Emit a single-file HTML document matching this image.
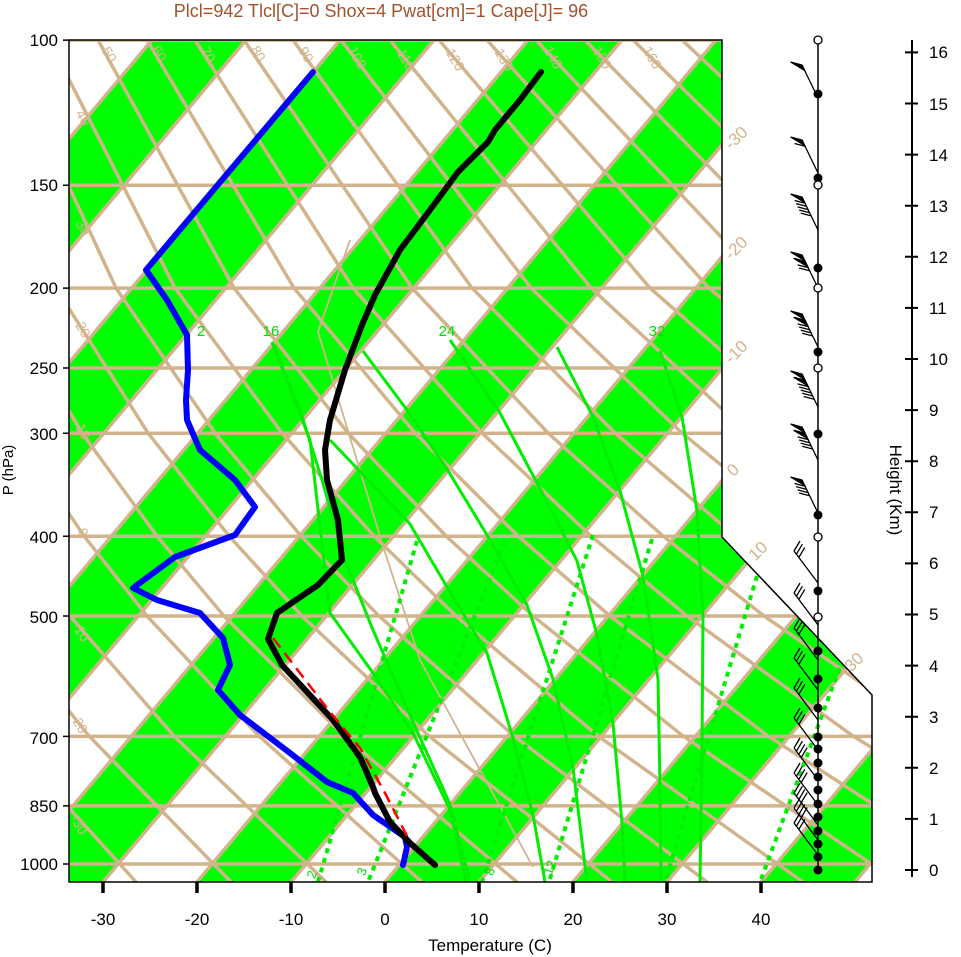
<!DOCTYPE html>
<html><head><meta charset="utf-8">
<style>
html,body{margin:0;padding:0;background:#fff;}
svg{display:block;font-family:"Liberation Sans",sans-serif;}
</style></head>
<body>
<svg width="961" height="957" viewBox="0 0 961 957" xmlns="http://www.w3.org/2000/svg">
<defs>
<clipPath id="cp"><polygon points="69,40 722,40 722,537 872,695 872,882 69,882"/></clipPath>
</defs>
<g clip-path="url(#cp)">
<rect x="0" y="0" width="961" height="957" fill="#fff"/>
<g fill="#00ff00">
<polygon points="152,40 246,40 -461,882 -555,882"/>
<polygon points="340,40 434,40 -273,882 -367,882"/>
<polygon points="528,40 622,40 -85,882 -179,882"/>
<polygon points="716,40 810,40 103,882 9,882"/>
<polygon points="904,40 998,40 291,882 197,882"/>
<polygon points="1092,40 1186,40 479,882 385,882"/>
<polygon points="1280,40 1374,40 667,882 573,882"/>
<polygon points="1468,40 1562,40 855,882 761,882"/>
</g>
<path fill="none" stroke="#d2b48c" stroke-width="3.5" d="M-649 882L58 40M-555 882L152 40M-461 882L246 40M-367 882L340 40M-273 882L434 40M-179 882L528 40M-85 882L622 40M9 882L716 40M103 882L810 40M197 882L904 40M291 882L998 40M385 882L1092 40M479 882L1186 40M573 882L1280 40M667 882L1374 40M761 882L1468 40M855 882L1562 40"/>
<path fill="none" stroke="#d2b48c" stroke-width="3.5" d="M60 40.1H880M60 185.2H880M60 288.1H880M60 368H880M60 433.2H880M60 536.2H880M60 616H880M60 736.4H880M60 805.9H880M60 864H880"/>
<g fill="none" stroke="#d2b48c" stroke-width="3.5">
<polyline points="-340,40 -300,288 -252,433 -205,536 -161,616 -81,736 40,882"/>
<polyline points="-292,40 -241,288 -185,433 -133,536 -84,616 4,736 136,882"/>
<polyline points="-243,40 -181,288 -118,433 -61,536 -7,616 89,736 231,882"/>
<polyline points="-194,40 -122,288 -52,433 12,536 70,616 174,736 326,882"/>
<polyline points="-146,40 -62,288 15,433 84,536 147,616 259,736 422,882"/>
<polyline points="-97,40 -3,288 82,433 157,536 224,616 344,736 517,882"/>
<polyline points="-48,40 56,288 148,433 229,536 302,616 429,736 612,882"/>
<polyline points="1,40 116,288 215,433 301,536 379,616 514,736 707,882"/>
<polyline points="49,40 175,288 282,433 374,536 456,616 598,736 803,882"/>
<polyline points="98,40 234,288 348,433 446,536 533,616 683,736 898,882"/>
<polyline points="147,40 294,288 415,433 518,536 610,616 768,736 993,882"/>
<polyline points="195,40 353,288 482,433 591,536 687,616 853,736 1089,882"/>
<polyline points="244,40 412,288 548,433 663,536 764,616 938,736 1184,882"/>
<polyline points="293,40 472,288 615,433 735,536 841,616 1023,736 1279,882"/>
<polyline points="341,40 531,288 682,433 808,536 918,616 1108,736"/>
<polyline points="390,40 591,288 748,433 880,536 996,616"/>
<polyline points="439,40 650,288 815,433 952,536"/>
<polyline points="487,40 709,288 882,433"/>
<polyline points="536,40 769,288 948,433"/>
<polyline points="585,40 828,288"/>
<polyline points="633,40 887,288"/>
<polyline points="682,40 947,288"/>
<polyline points="731,40 1006,288"/>
</g>
<g fill="none" stroke="#d2b48c" stroke-width="1.8">
<polyline points="318,332 383,546 420,660 533,867"/>
<polyline points="318,332 350,240"/>
</g>
<g fill="none" stroke="#00ee00" stroke-width="3">
<polyline points="660,351 682,417 697,511 703,616 702,750 700,882"/>
<polyline points="557,347 593,417 620,491 643,576 658,679 660,786 661,882"/>
<polyline points="450,340 500,413 547,502 577,561 597,635 613,723 622,823 625,882"/>
<polyline points="363,351 407,410 447,469 487,535 527,605 553,679 573,768 587,882"/>
<polyline points="330,440 410,524 447,587 487,653 513,738 533,815 545,882"/>
<polyline points="272,342 300,410 322,480 345,560 373,630 417,731 450,804 470,882"/>
<polyline points="272,342 310,440 330,613 373,673 413,733 450,810 466,882"/>
</g>
<g fill="none" stroke="#00ee00" stroke-width="4" stroke-dasharray="5 5">
<line x1="417" y1="541" x2="318" y2="882"/>
<line x1="505" y1="541" x2="368" y2="882"/>
<line x1="593" y1="535" x2="482" y2="882"/>
<line x1="652" y1="539" x2="549" y2="882"/>
<line x1="757" y1="576" x2="665" y2="882"/>
<line x1="850" y1="640" x2="760" y2="882"/>
</g>
<polyline fill="none" stroke="#0000ff" stroke-width="6" stroke-linejoin="round" stroke-linecap="round" points="313,72 146,270 160,290 167,300 187,335 188,370 186,400 187,420 200,450 235,480 255,507 235,535 175,557 133,588 157,600 200,613 223,638 230,665 218,690 240,715 290,753 327,782 353,793 373,815 405,837 407,847 403,865"/>
<polyline fill="none" stroke="#000" stroke-width="6" stroke-linejoin="round" stroke-linecap="round" points="541,72 520,100 495,130 488,142 458,172 430,210 400,250 375,295 362,325 345,370 330,420 325,450 327,480 338,520 342,560 318,585 296,600 277,613 268,639 282,665 333,720 360,757 373,787 375,793 390,822 410,843 435,865"/>
<polyline fill="none" stroke="#ff0000" stroke-width="2.5" stroke-dasharray="12 7" points="273,638 330,712 360,748 385,793 408,838"/>
</g>
<polygon points="69,40 722,40 722,537 872,695 872,882 69,882" fill="none" stroke="#000" stroke-width="1.5"/>

<!-- ticks -->
<path stroke="#000" stroke-width="3.5" d="M103 882V893M197 882V893M291 882V893M385 882V893M479 882V893M573 882V893M667 882V893M761 882V893"/>
<path stroke="#000" stroke-width="1.5" d="M63 40.1H69M63 185.2H69M63 288.1H69M63 368H69M63 433.2H69M63 536.2H69M63 616H69M63 736.4H69M63 805.9H69M63 864H69"/>
<path stroke="#000" stroke-width="2" d="M912 40V877M905 870H918M905 818.9H918M905 767.8H918M905 716.7H918M905 665.6H918M905 614.5H918M905 563.4H918M905 512.3H918M905 461.2H918M905 410.1H918M905 359H918M905 307.9H918M905 256.8H918M905 205.7H918M905 154.6H918M905 103.5H918M905 52.4H918"/>

<!-- wind -->
<line x1="818" y1="40" x2="818" y2="872" stroke="#000" stroke-width="1.5"/>
<g stroke="#000" stroke-width="1.3" fill="#000">
<g transform="translate(818,98)"><line x1="0" y1="0" x2="-16" y2="-33"/><polygon points="-16,-33 -13.4,-27.6 -27.4,-36"/></g>
<g transform="translate(818,173)"><line x1="0" y1="0" x2="-16" y2="-33"/><polygon points="-16,-33 -13.4,-27.6 -27.4,-36"/><path d="M-12.9 -26.7l-10.5 -2.75"/></g>
<g transform="translate(818,230)"><line x1="0" y1="0" x2="-16" y2="-33"/><polygon points="-16,-33 -13.4,-27.6 -27.4,-36"/><path d="M-12.9 -26.7l-10.5 -2.75M-11.4 -23.6l-10.5 -2.75M-9.9 -20.4l-10.5 -2.75M-8.4 -17.3l-10.5 -2.75M-6.8 -14.1l-10.5 -2.75"/></g>
<g transform="translate(818,288)"><line x1="0" y1="0" x2="-16" y2="-33"/><polygon points="-16,-33 -13.4,-27.6 -27.4,-36"/><polygon points="-12.9,-26.7 -10.3,-21.3 -24.3,-29.7"/><path d="M-9.9 -20.4l-10.5 -2.75M-8.4 -17.3l-10.5 -2.75"/></g>
<g transform="translate(818,347)"><line x1="0" y1="0" x2="-16" y2="-33"/><polygon points="-16,-33 -13.4,-27.6 -27.4,-36"/><polygon points="-12.9,-26.7 -10.3,-21.3 -24.3,-29.7"/><path d="M-9.9 -20.4l-10.5 -2.75M-8.4 -17.3l-10.5 -2.75M-6.8 -14.1l-10.5 -2.75M-5.3 -11l-10.5 -2.75"/></g>
<g transform="translate(818,407)"><line x1="0" y1="0" x2="-16" y2="-33"/><polygon points="-16,-33 -13.4,-27.6 -27.4,-36"/><polygon points="-12.9,-26.7 -10.3,-21.3 -24.3,-29.7"/><path d="M-9.9 -20.4l-10.5 -2.75M-8.4 -17.3l-10.5 -2.75M-6.8 -14.1l-10.5 -2.75M-5.3 -11l-10.5 -2.75M-3.8 -7.8l-10.5 -2.75"/></g>
<g transform="translate(818,460)"><line x1="0" y1="0" x2="-16" y2="-33"/><polygon points="-16,-33 -13.4,-27.6 -27.4,-36"/><polygon points="-12.9,-26.7 -10.3,-21.3 -24.3,-29.7"/><path d="M-9.9 -20.4l-10.5 -2.75M-8.4 -17.3l-10.5 -2.75M-6.8 -14.1l-10.5 -2.75M-5.3 -11l-10.5 -2.75"/></g>
<g transform="translate(818,513)"><line x1="0" y1="0" x2="-16" y2="-33"/><polygon points="-16,-33 -13.4,-27.6 -27.4,-36"/><path d="M-12.9 -26.7l-10.5 -2.75M-11.4 -23.6l-10.5 -2.75M-9.9 -20.4l-10.5 -2.75M-8.4 -17.3l-10.5 -2.75"/></g>
</g>
<g stroke="#000" stroke-width="1.3" fill="none">
<g transform="translate(818,583)"><path d="M0 0L-24 -32M-24 -32l6 -10M-21.6 -28.8l6 -10M-19.2 -25.6l6 -10"/></g>
<g transform="translate(818,625)"><path d="M0 0L-24 -32M-24 -32l6 -10M-21.6 -28.8l6 -10M-19.2 -25.6l6 -10"/></g>
<g transform="translate(818,660)"><path d="M0 0L-24 -32M-24 -32l6 -10M-21.6 -28.8l6 -10M-19.2 -25.6l6 -10"/></g>
<g transform="translate(818,690)"><path d="M0 0L-24 -32M-24 -32l6 -10M-21.6 -28.8l6 -10M-19.2 -25.6l6 -10"/></g>
<g transform="translate(818,720)"><path d="M0 0L-24 -32M-24 -32l6 -10M-21.6 -28.8l6 -10M-19.2 -25.6l6 -10"/></g>
<g transform="translate(818,750)"><path d="M0 0L-24 -32M-24 -32l6 -10M-21.6 -28.8l6 -10M-19.2 -25.6l6 -10"/></g>
<g transform="translate(818,780)"><path d="M0 0L-24 -32M-24 -32l6 -10M-21.6 -28.8l6 -10M-19.2 -25.6l6 -10M-16.8 -22.4l6 -10"/></g>
<g transform="translate(818,805)"><path d="M0 0L-24 -32M-24 -32l6 -10M-21.6 -28.8l6 -10M-19.2 -25.6l6 -10M-16.8 -22.4l6 -10"/></g>
<g transform="translate(818,825)"><path d="M0 0L-24 -32M-24 -32l6 -10M-21.6 -28.8l6 -10M-19.2 -25.6l6 -10M-16.8 -22.4l6 -10"/></g>
<g transform="translate(818,840)"><path d="M0 0L-24 -32M-24 -32l6 -10M-21.6 -28.8l6 -10M-19.2 -25.6l6 -10M-16.8 -22.4l6 -10"/></g>
<g transform="translate(818,855)"><path d="M0 0L-24 -32M-24 -32l6 -10M-21.6 -28.8l6 -10M-19.2 -25.6l6 -10"/></g>
</g>
<g fill="#000">
<circle cx="818" cy="94" r="4.5"/><circle cx="818" cy="178" r="4.5"/><circle cx="818" cy="268" r="4.5"/><circle cx="818" cy="352" r="4.5"/><circle cx="818" cy="434" r="4.5"/><circle cx="818" cy="515" r="4.5"/><circle cx="818" cy="591" r="4.5"/><circle cx="818" cy="651" r="4.5"/><circle cx="818" cy="679" r="4.5"/><circle cx="818" cy="708" r="4.5"/><circle cx="818" cy="737" r="4.5"/><circle cx="818" cy="749" r="4.5"/><circle cx="818" cy="763" r="4.5"/><circle cx="818" cy="777" r="4.5"/><circle cx="818" cy="790" r="4.5"/><circle cx="818" cy="804" r="4.5"/><circle cx="818" cy="817" r="4.5"/><circle cx="818" cy="831" r="4.5"/><circle cx="818" cy="844" r="4.5"/><circle cx="818" cy="857" r="4.5"/><circle cx="818" cy="870" r="4.5"/>
</g>
<g fill="#fff" stroke="#000" stroke-width="1.3">
<circle cx="818" cy="40" r="4"/><circle cx="818" cy="185" r="4"/><circle cx="818" cy="288" r="4"/><circle cx="818" cy="368" r="4"/><circle cx="818" cy="537" r="4"/><circle cx="818" cy="617" r="4"/>
</g>

<!-- title -->
<text x="381" y="17" font-size="18" fill="#a0522d" text-anchor="middle">Plcl=942 Tlcl[C]=0 Shox=4 Pwat[cm]=1 Cape[J]= 96</text>

<g font-size="17" fill="#000" text-anchor="end">
<text x="58" y="46">100</text>
<text x="58" y="191">150</text>
<text x="58" y="294">200</text>
<text x="58" y="374">250</text>
<text x="58" y="440">300</text>
<text x="58" y="543">400</text>
<text x="58" y="623">500</text>
<text x="58" y="744">700</text>
<text x="58" y="812">850</text>
<text x="58" y="870">1000</text>
</g>
<text x="0" y="0" font-size="15" transform="translate(13,470) rotate(-90)" text-anchor="middle">P (hPa)</text>

<g font-size="17" fill="#000" text-anchor="middle">
<text x="103" y="925">-30</text>
<text x="197" y="925">-20</text>
<text x="291" y="925">-10</text>
<text x="385" y="925">0</text>
<text x="479" y="925">10</text>
<text x="573" y="925">20</text>
<text x="667" y="925">30</text>
<text x="761" y="925">40</text>
</g>
<text x="490" y="951" font-size="17" text-anchor="middle">Temperature (C)</text>

<g font-size="17" fill="#000">
<text x="929" y="876">0</text>
<text x="929" y="825">1</text>
<text x="929" y="774">2</text>
<text x="929" y="723">3</text>
<text x="929" y="672">4</text>
<text x="929" y="620">5</text>
<text x="929" y="569">6</text>
<text x="929" y="518">7</text>
<text x="929" y="467">8</text>
<text x="929" y="416">9</text>
<text x="929" y="365">10</text>
<text x="929" y="314">11</text>
<text x="929" y="263">12</text>
<text x="929" y="212">13</text>
<text x="929" y="161">14</text>
<text x="929" y="110">15</text>
<text x="929" y="58">16</text>
</g>
<text x="0" y="0" font-size="17" transform="translate(890,490) rotate(90)" text-anchor="middle">Height (Km)</text>

<g font-size="14" fill="#d2b48c" text-anchor="middle">
<text transform="translate(105,57) rotate(60)">50</text>
<text transform="translate(155,56) rotate(60)">60</text>
<text transform="translate(204,57) rotate(60)">70</text>
<text transform="translate(254,56) rotate(60)">80</text>
<text transform="translate(302,57) rotate(60)">90</text>
<text transform="translate(353,60) rotate(60)">100</text>
<text transform="translate(402,62) rotate(60)">110</text>
<text transform="translate(451,62) rotate(60)">120</text>
<text transform="translate(500,62) rotate(60)">130</text>
<text transform="translate(549,60) rotate(60)">140</text>
<text transform="translate(598,60) rotate(60)">150</text>
<text transform="translate(648,60) rotate(60)">160</text>
<text transform="translate(79,120) rotate(60)">40</text>
<text transform="translate(79,230) rotate(60)">30</text>
<text transform="translate(79,332) rotate(60)">20</text>
<text transform="translate(79,434) rotate(60)">10</text>
<text transform="translate(79,535) rotate(60)">0</text>
<text transform="translate(77,634) rotate(60)">-10</text>
<text transform="translate(75,726) rotate(60)">-20</text>
<text transform="translate(75,827) rotate(60)">-30</text>
</g>
<g font-size="17" fill="#d2b48c" text-anchor="middle">
<text transform="translate(740,142) rotate(-45)">-30</text>
<text transform="translate(740,252) rotate(-45)">-20</text>
<text transform="translate(740,356) rotate(-45)">-10</text>
<text transform="translate(737,474) rotate(-45)">0</text>
<text transform="translate(762,555) rotate(-45)">10</text>
<text transform="translate(858,666) rotate(-45)">30</text>
</g>
<g font-size="15" fill="#00e000" text-anchor="middle">
<text x="201" y="336">2</text>
<text x="271" y="336">16</text>
<text x="447" y="336">24</text>
<text x="657" y="336">32</text>
</g>
<g font-size="13" fill="#00e000" text-anchor="middle">
<text transform="translate(316,876) rotate(-70)">2</text>
<text transform="translate(366,873) rotate(-70)">3</text>
<text transform="translate(494,873) rotate(-70)">8</text>
<text transform="translate(554,869) rotate(-70)">12</text>
</g>
</svg>
</body></html>
